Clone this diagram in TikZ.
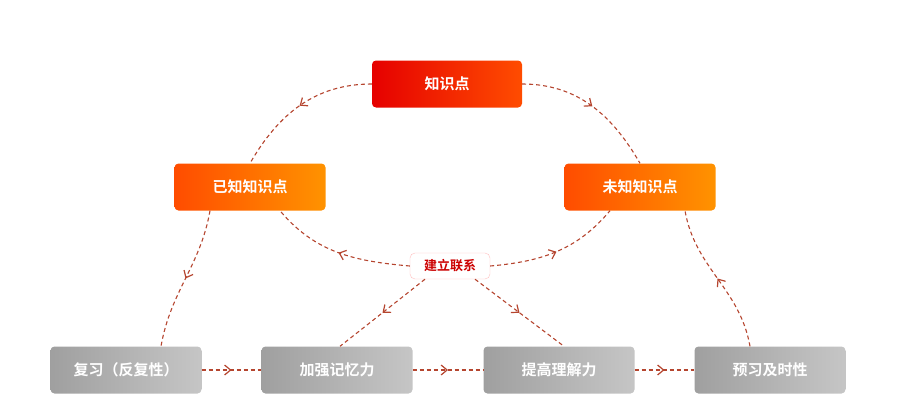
\documentclass[tikz,border=0pt]{standalone}
\usepackage{fontspec}
\newfontfamily\cjk{Noto Sans CJK SC}[BoldFont={Noto Sans CJK SC Bold}]
\usetikzlibrary{decorations.markings,arrows.meta,shadows}
\definecolor{lnc}{HTML}{B5452F}
\tikzset{
 box/.style={rounded corners=4pt,minimum width=151pt,minimum height=47pt,font=\cjk\bfseries\fontsize{15}{15}\selectfont,text=white,inner sep=0pt},
 topbox/.style={box,left color=red!90!black,right color=orange!60!red},
 sidebox/.style={box,left color=orange!60!red,right color=orange!85!yellow},
 greybox/.style={box,left color=gray!75,right color=gray!45},
 conn/.style={lnc,dashed,dash pattern=on 4pt off 3pt,line width=1.1pt,
   postaction={decorate},decoration={markings,mark=at position 0.5 with {\arrow[solid,line width=1.2pt]{Straight Barb[length=6pt,width=10pt]}}}},
}
\begin{document}
\begin{tikzpicture}[x=1pt,y=-1pt]
\useasboundingbox (0,0) rectangle (910,415);
\node[topbox,minimum width=150pt,minimum height=47pt] (k) at (447,84) {知识点};
\node[sidebox] (y) at (250,187) {已知知识点};
\node[sidebox] (w) at (640,187) {未知知识点};
\node[rounded corners=5pt,draw=red!25,fill=white,text=red!80!black,font=\cjk\bfseries\fontsize{13}{13}\selectfont,minimum width=80pt,minimum height=26pt] (j) at (450,266) {建立联系};
\node[greybox] (f) at (126,370) {复习（反复性）};
\node[greybox] (a) at (337,370) {加强记忆力};
\node[greybox] (t) at (559,370) {提高理解力};
\node[greybox] (p) at (770,370) {预习及时性};
\draw[conn] (k.west) to[out=180,in=60] (y.north);
\draw[conn] (k.east) to[out=0,in=120] (w.north);
\draw[conn] ([xshift=-40pt]y.south) to[out=-100,in=80] ([xshift=35pt]f.north);
\draw[conn] ([xshift=-20pt]p.north) to[out=100,in=-80] ([xshift=45pt]w.south);
\draw[conn] (j.west) to[out=175,in=-50] ([xshift=30pt]y.south);
\draw[conn] (j.east) to[out=5,in=-130] ([xshift=-30pt]w.south);
\draw[conn] ([xshift=-25pt]j.south) -- ([xshift=3pt]a.north);
\draw[conn] ([xshift=25pt]j.south) -- ([xshift=5pt]t.north);
\draw[conn] (f) -- (a);
\draw[conn] (a) -- (t);
\draw[conn] (t) -- (p);
\end{tikzpicture}
\end{document}
